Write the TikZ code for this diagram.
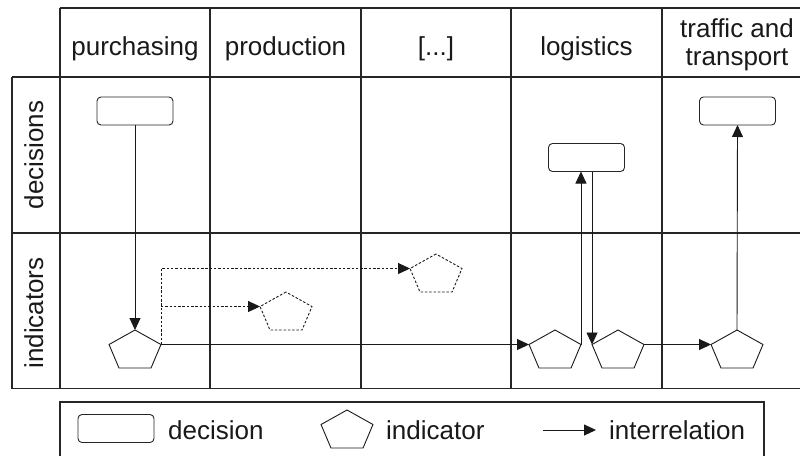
\documentclass[tikz,border=0pt]{standalone}
\usepackage{fontspec}
\setmainfont{Liberation Sans}
\usetikzlibrary{shapes.geometric,arrows.meta}
\begin{document}
\begin{tikzpicture}[x=1pt,y=-1pt,
  grid/.style={line width=1.3pt, draw=black!85},
  lbl/.style={font=\fontsize{26}{28}\selectfont, inner sep=0pt, text=black!90},
  decision/.style={draw=black!85, rounded corners=4pt, minimum width=76pt, minimum height=28pt,
    inner sep=0pt, outer sep=0pt, line width=0.9pt},
  indicator/.style={draw=black!90, regular polygon, regular polygon sides=5, minimum size=42pt,
    inner sep=0pt, outer sep=0pt, xscale=1.3, transform shape, line width=0.9pt},
  finedash/.style={dash pattern=on 2.5pt off 1.8pt},
  rel/.style={line width=0.9pt, draw=black!90, -{Triangle[length=12pt,width=11pt]}},
]
\useasboundingbox (0,0) rectangle (800,455);
\clip (0,0) rectangle (800,455);

% table grid
\draw[grid] (60,8) -- (810,8);
\draw[grid] (12,77) -- (810,77);
\draw[grid] (12,233) -- (810,233);
\draw[grid] (12,388.5) -- (810,388.5);
\draw[grid] (12,77) -- (12,388.5);
\foreach \x in {60,210,361,511,662} \draw[grid] (\x,8) -- (\x,388.5);

% column headings
\node[lbl, anchor=base] (hpur) at (135,55) {purchasing};
\node[lbl, anchor=base] (hpro) at (285.5,55) {production};
\node[lbl, anchor=base] (hdots) at (436,55) {[...]};
\node[lbl, anchor=base] (hlog) at (586.5,55) {logistics};
\node[lbl, anchor=base] (htra1) at (737,37) {traffic and};
\node[lbl, anchor=base] (htra2) at (737,65) {transport};

% row headings
\node[lbl, anchor=base, rotate=90] (rdec) at (43,155) {decisions};
\node[lbl, anchor=base, rotate=90] (rind) at (43,313) {indicators};

% decisions
\node[decision] (b0) at (135,111) {};
\node[decision] (bl) at (586.5,157.5) {};
\node[decision] (bt) at (737.5,111) {};

% indicators
\node[indicator] (p0) at (135,351) {};
\node[indicator, finedash] (d1) at (286,313) {};
\node[indicator, finedash] (d2) at (436,275) {};
\node[indicator] (l1) at (555,351) {};
\node[indicator] (l2) at (618,351) {};
\node[indicator] (t0) at (737,351) {};

% interrelations
\draw[rel] (b0.south) -- (p0.corner 1);
\draw[rel] (p0.corner 5) -- (l1.corner 2);
\draw[rel, finedash] (p0.corner 5) |- (d2.corner 2);
\draw[rel, finedash] (p0.corner 5 |- d1.corner 2) -- (d1.corner 2);
\draw[rel] (l1.corner 5) -- (l1.corner 5 |- bl.south);
\draw[rel] (l2.corner 2 |- bl.south) -- (l2.corner 2);
\draw[rel] (l2.corner 5) -- (t0.corner 2);
\draw[rel] (t0.corner 1) -- (bt.south);

% legend
\draw[grid, line width=1.1pt] (60,470) -- (60,402) -- (764,402) -- (764,470);
\node[decision] (kdec) at (116,428.5) {};
\node[lbl, anchor=base west] (kdect) at (168,439) {decision};
\node[indicator] (kind) at (347,431) {};
\node[lbl, anchor=base west] (kindt) at (386,439) {indicator};
\coordinate (ka) at (543,430);
\coordinate (kb) at (596,430);
\draw[rel] (ka) -- (kb);
\node[lbl, anchor=base west] (krelt) at (609,439) {interrelation};
\end{tikzpicture}
\end{document}
